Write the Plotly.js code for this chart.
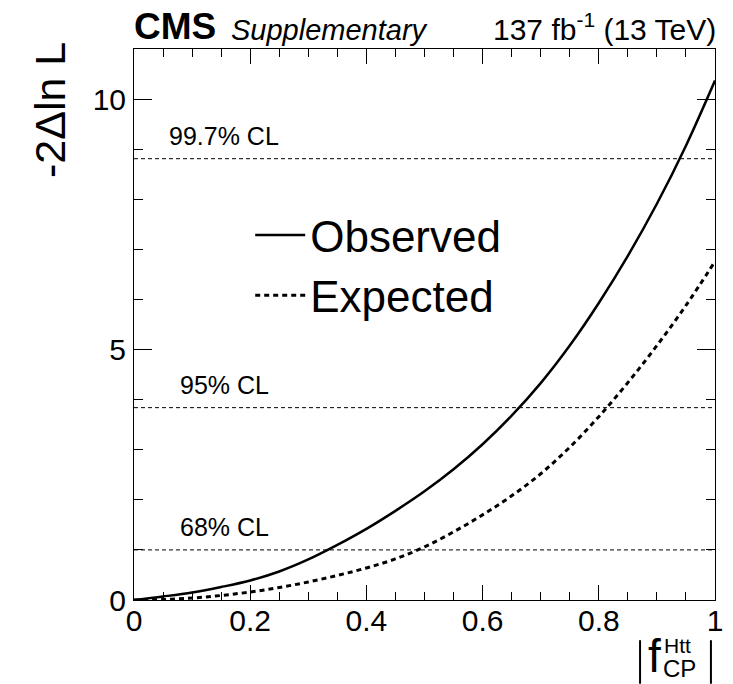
<!DOCTYPE html>
<html>
<head>
<meta charset="utf-8">
<script src="https://cdn.plot.ly/plotly-3.0.1.min.js"></script>
<style>html,body{margin:0;padding:0;background:#fff;}#plot{width:733px;height:684px;}</style>
</head>
<body>
<div id="plot"></div>
<script>
// fCP values
const fcp = [0, 0.05, 0.10, 0.15, 0.20, 0.25, 0.30, 0.35, 0.40, 0.45, 0.50, 0.55, 0.60, 0.65, 0.70, 0.75, 0.80, 0.85, 0.90, 0.95, 1.00];
// -2 Delta ln L, observed
const observed = [0, 0.07, 0.15, 0.26, 0.39, 0.57, 0.81, 1.10, 1.42, 1.78, 2.17, 2.61, 3.11, 3.68, 4.33, 5.08, 5.93, 6.87, 7.91, 9.07, 10.37];
// -2 Delta ln L, expected
const expected = [0, 0.01, 0.04, 0.09, 0.16, 0.25, 0.36, 0.49, 0.64, 0.82, 1.06, 1.36, 1.70, 2.08, 2.52, 3.05, 3.66, 4.34, 5.08, 5.88, 6.76];
// confidence levels
const clValues = [1.0, 3.84, 8.81];
const clLabels = ['68% CL', '95% CL', '99.7% CL'];
const xRange = [0, 1];
const yRange = [0, 11];

const FONT = 'Liberation Sans, Arial, Helvetica, sans-serif';

const traces = [];
clValues.forEach((v) => {
  traces.push({
    x: xRange, y: [v, v], mode: 'lines', showlegend: false, hoverinfo: 'skip',
    line: {color: 'black', width: 1, dash: '4px,3px'}
  });
});
traces.push({
  x: fcp, y: observed, mode: 'lines', name: 'Observed', legendgroup: 'o',
  line: {color: 'black', width: 2.5, shape: 'spline'}
});
traces.push({
  x: fcp, y: expected, mode: 'lines', name: 'Expected', legendgroup: 'e',
  line: {color: 'black', width: 3, dash: '5px,4px', shape: 'spline'}
});

const annotations = clValues.map((v, i) => ({
  x: 0.155, y: v, xref: 'x', yref: 'y', text: clLabels[i], showarrow: false,
  xanchor: 'center', yanchor: 'bottom', yshift: 7,
  font: {family: FONT, size: 25, color: 'black'}
}));

annotations.push(
  {x: 0, y: 1, xref: 'paper', yref: 'paper', text: '<b>CMS</b>', showarrow: false,
   xanchor: 'left', yanchor: 'bottom', yshift: 0, xshift: -2,
   font: {family: FONT, size: 37, color: 'black'}},
  {x: 0.1635, y: 1, xref: 'paper', yref: 'paper', text: '<i>Supplementary</i>', showarrow: false,
   xanchor: 'left', yanchor: 'bottom', yshift: 1,
   font: {family: FONT, size: 29, color: 'black'}},
  {x: 1, y: 1, xref: 'paper', yref: 'paper', text: '137 fb<sup>-1</sup> (13 TeV)', showarrow: false,
   xanchor: 'right', yanchor: 'bottom', yshift: 1, xshift: 3,
   font: {family: FONT, size: 30, color: 'black'}},
  {x: -0.1446, y: 1.0163, xref: 'paper', yref: 'paper', text: '-2\u0394ln L', showarrow: false,
   textangle: -90, xanchor: 'center', yanchor: 'top',
   font: {family: FONT, size: 43, color: 'black'}},
  // x-axis title |f_CP^Htt|
  {x: 0.881, y: -0.1525, xref: 'paper', yref: 'paper', text: 'f', showarrow: false,
   xanchor: 'left', yanchor: 'bottom',
   font: {family: FONT, size: 46, color: 'black'}},
  {x: 0.909, y: -0.058, xref: 'paper', yref: 'paper', text: 'Htt', showarrow: false,
   xanchor: 'left', yanchor: 'top',
   font: {family: FONT, size: 21, color: 'black'}},
  {x: 0.907, y: -0.1525, xref: 'paper', yref: 'paper', text: 'CP', showarrow: false,
   xanchor: 'left', yanchor: 'bottom',
   font: {family: FONT, size: 24, color: 'black'}}
);

const shapes = [
  {type: 'line', xref: 'paper', yref: 'paper', x0: 0.871, x1: 0.871, y0: -0.073, y1: -0.152,
   line: {color: 'black', width: 2}},
  {type: 'line', xref: 'paper', yref: 'paper', x0: 0.993, x1: 0.993, y0: -0.073, y1: -0.152,
   line: {color: 'black', width: 2}}
];

const layout = {
  width: 733, height: 684,
  margin: {l: 134, r: 18, t: 49, b: 84, pad: 0},
  paper_bgcolor: 'white', plot_bgcolor: 'white',
  font: {family: FONT, color: 'black'},
  showlegend: true,
  legend: {x: 0.2, y: 0.726, xanchor: 'left', yanchor: 'top', bgcolor: 'rgba(0,0,0,0)',
           font: {family: FONT, size: 44, color: 'black'}, tracegroupgap: 0, itemwidth: 50},
  xaxis: {
    range: xRange, showgrid: false, zeroline: false, showline: true, linecolor: 'black', linewidth: 1,
    mirror: 'ticks', ticks: 'inside', ticklen: 15, tickwidth: 1, tickcolor: 'black',
    dtick: 0.2, tick0: 0, tickfont: {family: FONT, size: 30, color: 'black'},
    ticklabelstandoff: -6,
    minor: {dtick: 0.05, ticks: 'inside', ticklen: 8, tickwidth: 1, tickcolor: 'black', showgrid: false}
  },
  yaxis: {
    range: yRange, showgrid: false, zeroline: false, showline: true, linecolor: 'black', linewidth: 1,
    mirror: 'ticks', ticks: 'inside', ticklen: 18, tickwidth: 1, tickcolor: 'black',
    dtick: 5, tick0: 0, tickfont: {family: FONT, size: 30, color: 'black'},
    ticklabelstandoff: 1,
    minor: {dtick: 1, ticks: 'inside', ticklen: 9, tickwidth: 1, tickcolor: 'black', showgrid: false}
  },
  annotations: annotations,
  shapes: shapes
};

Plotly.newPlot('plot', traces, layout, {displayModeBar: false, staticPlot: true});
</script>
</body>
</html>
